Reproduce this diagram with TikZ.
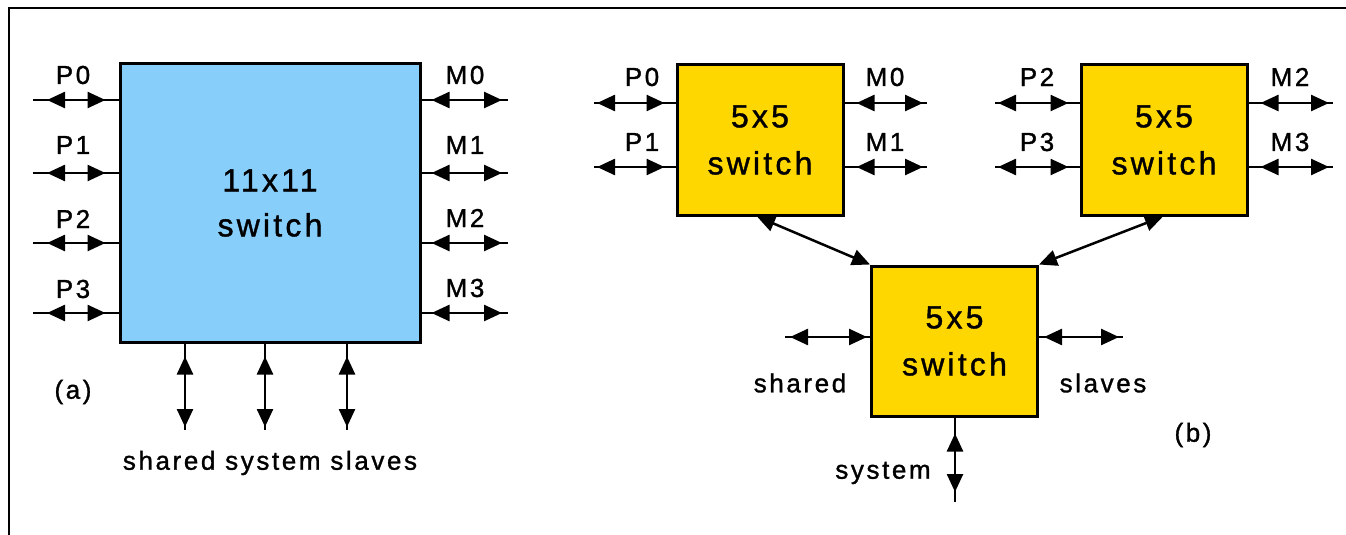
\documentclass[tikz,border=0pt]{standalone}
\usepackage{fontspec}
\setmainfont{Liberation Sans}[LetterSpace=10,FakeBold=1.2]
\usetikzlibrary{arrows.meta,decorations.markings}
\definecolor{swblue}{RGB}{135,206,250}
\definecolor{swyellow}{RGB}{255,215,0}
\begin{document}
\begin{tikzpicture}[x=1pt,y=-1pt,
  bigbox/.style={draw=black,line width=3pt,fill=swblue,minimum width=300pt,minimum height=278pt,inner sep=0pt,align=center,font=\fontsize{32}{45}\selectfont},
  ybox/.style={draw=black,line width=3pt,fill=swyellow,minimum width=166pt,minimum height=150pt,inner sep=0pt,align=center,font=\fontsize{32}{47}\selectfont},
  lbl/.style={font=\fontsize{26}{30}\selectfont,inner sep=0pt},
  conn/.style={line width=2.5pt},
  biarrow/.style 2 args={conn,postaction={decorate,decoration={markings,
     mark=at position #1 with {\arrowreversed{Triangle[length=18pt,width=16pt]}},
     mark=at position -#2 with {\arrow{Triangle[length=18pt,width=16pt]}}}}}
]
\useasboundingbox (0,0) rectangle (1346,535);
% frame
\draw[line width=2pt] (9,535) -- (9,8) -- (1346,8);

% ---------- (a) ----------
\node[bigbox] (big) at (270,203) {11x11\\switch};
\foreach \y/\i in {100/0,173/1,243/2,313/3}{
  \coordinate (ap\i) at (33,\y);
  \coordinate (am\i) at (508,\y);
  \draw[biarrow={14pt}{13pt}] (ap\i) -- (ap\i -| big.west);
  \draw[biarrow={10pt}{6pt}] (am\i -| big.east) -- (am\i);
}
\node[lbl] (lp0) at (73,75) {P0};
\node[lbl] (lp1) at (73,145) {P1};
\node[lbl] (lp2) at (73,219) {P2};
\node[lbl] (lp3) at (73,289) {P3};
\node[lbl] (lm0) at (465,75) {M0};
\node[lbl] (lm1) at (465,145) {M1};
\node[lbl] (lm2) at (465,218) {M2};
\node[lbl] (lm3) at (465,288) {M3};
\foreach \x/\i in {185/1,265/2,347/3}{
  \coordinate (av\i) at (\x,430);
  \draw[biarrow={13pt}{3pt}] (av\i |- big.south) -- (av\i);
}
\node[lbl] (acap) at (73,392) {(a)};
\node[lbl] (abot) at (270,463) {shared system slaves};

% ---------- (b) ----------
\node[ybox] (s1) at (760,140) {5x5\\switch};
\node[ybox] (s2) at (1164,140) {5x5\\switch};
\node[ybox] (s3) at (954.5,341) {5x5\\switch};
\foreach \y/\i in {103/0,167/1}{
  \coordinate (bp\i) at (594,\y);
  \coordinate (bm\i) at (927,\y);
  \draw[biarrow={3pt}{11pt}] (bp\i) -- (bp\i -| s1.west);
  \draw[biarrow={12pt}{4pt}] (bm\i -| s1.east) -- (bm\i);
  \coordinate (cp\i) at (995,\y);
  \coordinate (cm\i) at (1333,\y);
  \draw[biarrow={3pt}{11pt}] (cp\i) -- (cp\i -| s2.west);
  \draw[biarrow={12pt}{4pt}] (cm\i -| s2.east) -- (cm\i);
}
\node[lbl] (bl0) at (642,77) {P0};
\node[lbl] (bl1) at (642,142) {P1};
\node[lbl] (bl2) at (885,77) {M0};
\node[lbl] (bl3) at (885,142) {M1};
\node[lbl] (bl4) at (1037,77) {P2};
\node[lbl] (bl5) at (1037,142) {P3};
\node[lbl] (bl6) at (1290,77) {M2};
\node[lbl] (bl7) at (1290,142) {M3};
% diagonals
\draw[conn,{Triangle[length=18pt,width=16pt]}-{Triangle[length=18pt,width=16pt]}] ([xshift=-3pt]s1.south) -- (s3.north west);
\draw[conn,{Triangle[length=18pt,width=16pt]}-{Triangle[length=18pt,width=16pt]}] ([xshift=-1pt]s2.south) -- (s3.north east);
% bottom switch sides
\coordinate (sh) at (785,337);
\coordinate (sl) at (1123,337);
\coordinate (sy) at (955,502);
\draw[biarrow={5pt}{3pt}] (sh) -- (sh -| s3.west);
\draw[biarrow={5pt}{4pt}] (sl -| s3.east) -- (sl);
\draw[biarrow={16pt}{10pt}] (sy |- s3.south) -- (sy);
\node[lbl] (tsh) at (800,383) {shared};
\node[lbl] (tsl) at (1103,383) {slaves};
\node[lbl] (tsy) at (883,473) {system};
\node[lbl] (bcap) at (1193,435) {(b)};
\end{tikzpicture}
\end{document}
